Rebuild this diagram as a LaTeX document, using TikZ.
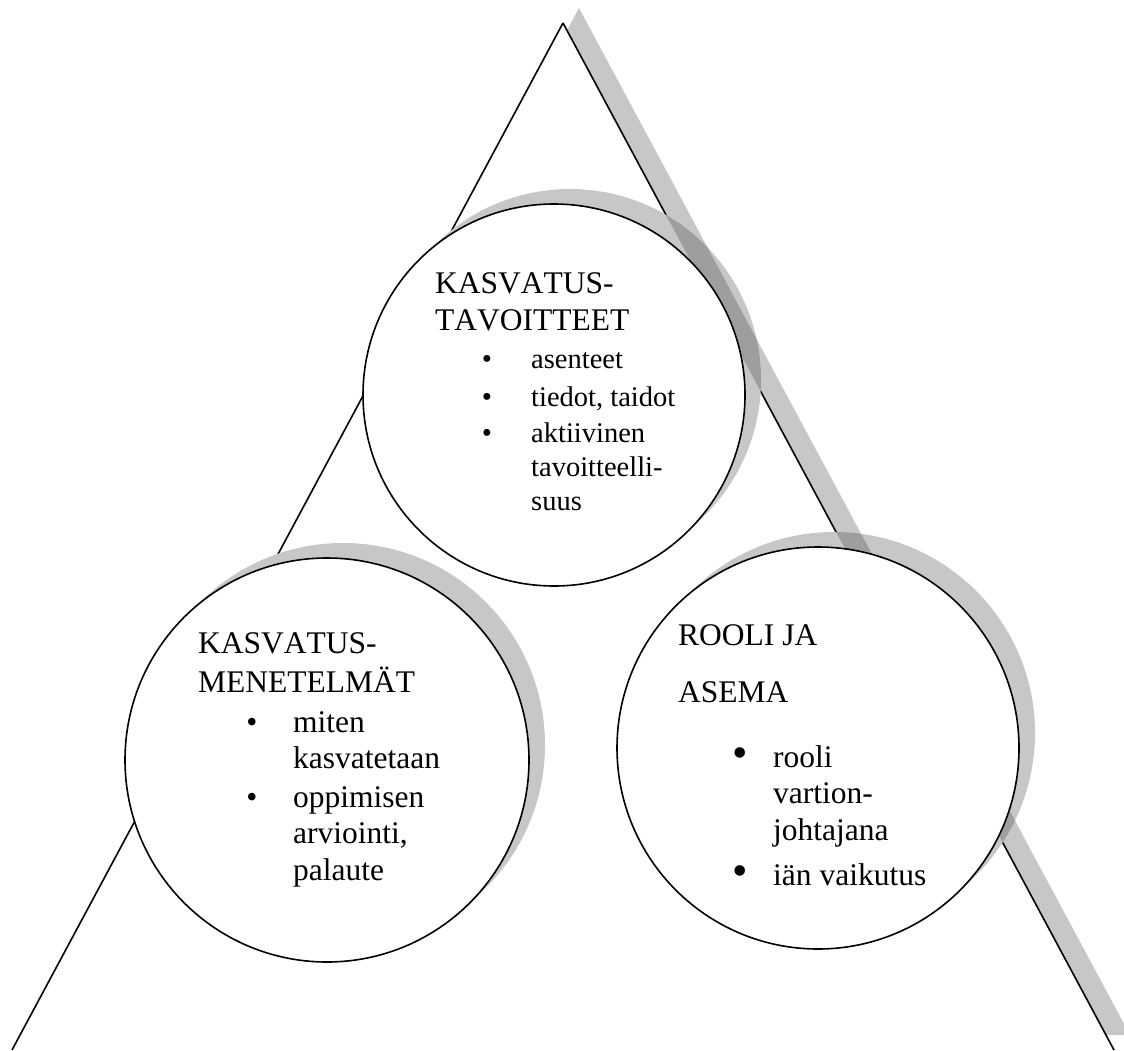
\documentclass[tikz,border=0pt]{standalone}
\usepackage{fontspec}
\setmainfont[Kerning=Off]{Liberation Serif}
\begin{document}
\begin{tikzpicture}[x=1pt,y=-1pt,
  txt/.style={anchor=base west, inner sep=0pt, font=\fontsize{31.5}{36}\selectfont},
  smalltxt/.style={anchor=base west, inner sep=0pt, font=\fontsize{28.5}{34}\selectfont},
  bul/.style={anchor=base, inner sep=0pt, font=\fontsize{31.5}{36}\selectfont},
  smallbul/.style={anchor=base, inner sep=0pt, font=\fontsize{29}{34}\selectfont},
  bigbul/.style={anchor=base, inner sep=0pt, font=\fontsize{44}{44}\selectfont},
  shadelight/.style={fill=black!22},
  shadedark/.style={fill=black!38},
  ring/.style={circle, draw=black, line width=1.6pt, fill=white, inner sep=0pt},
  edgeline/.style={draw=black, line width=1.6pt}]
\useasboundingbox (0,0) rectangle (1124,1051);
% triangle and its shadow
\coordinate (A) at (563,23);
\coordinate (B) at (12,1050);
\coordinate (C) at (1114,1050);
\coordinate (As) at (579,8);
\coordinate (Bs) at (28,1035);
\coordinate (Cs) at (1130,1035);
\fill[shadelight] (As) -- (Bs) -- (Cs) -- cycle;
\fill[white] (A) -- (B) -- (C) -- cycle;
\draw[edgeline] (A) -- (B) (A) -- (C);
% circle shadows
\fill[shadelight] (570,380) circle (191);
\fill[shadelight] (343,745) circle (202);
\fill[shadelight] (834,733) circle (201);
\begin{scope}
  \clip (A) -- (As) -- (Cs) -- (C) -- cycle;
  \fill[shadedark] (570,380) circle (191);
  \fill[shadedark] (834,733) circle (201);
\end{scope}
% circles
\node[ring, minimum size=382pt] (top) at (554,395) {};
\node[ring, minimum size=404pt] (left) at (327,760) {};
\node[ring, minimum size=402pt] (right) at (818,748) {};
% top circle text
\node[txt] (t1) at (435,293) {KASVATUS-};
\node[txt] (t2) at (435,330) {TAVOITTEET};
\node[smallbul] (tb1) at (487,368) {\textbullet};
\node[smalltxt] (t3) at (531,368) {asenteet};
\node[smallbul] (tb2) at (487,406) {\textbullet};
\node[smalltxt] (t4) at (531,406) {tiedot, taidot};
\node[smallbul] (tb3) at (487,442) {\textbullet};
\node[smalltxt] (t5) at (531,442) {aktiivinen};
\node[smalltxt] (t6) at (531,476) {tavoitteelli-};
\node[smalltxt] (t7) at (531,510) {suus};
% left circle text
\node[txt] (l1) at (198,653) {KASVATUS-};
\node[txt] (l2) at (198,692) {MENETELMÄT};
\node[bul] (lb1) at (252,732) {\textbullet};
\node[txt] (l3) at (293,732) {miten};
\node[txt] (l4) at (293,768) {kasvatetaan};
\node[bul] (lb2) at (252,807) {\textbullet};
\node[txt] (l5) at (293,807) {oppimisen};
\node[txt] (l6) at (293,843) {arviointi,};
\node[txt] (l7) at (293,880) {palaute};
% right circle text
\node[txt] (r1) at (678,645) {ROOLI JA};
\node[txt] (r2) at (678,702) {ASEMA};
\node[bigbul] (rb1) at (740,767) {\textbullet};
\node[txt] (r3) at (773,767) {rooli};
\node[txt] (r4) at (773,803) {vartion-};
\node[txt] (r5) at (773,840) {johtajana};
\node[bigbul] (rb2) at (740,885) {\textbullet};
\node[txt] (r6) at (773,885) {iän vaikutus};
\end{tikzpicture}
\end{document}
